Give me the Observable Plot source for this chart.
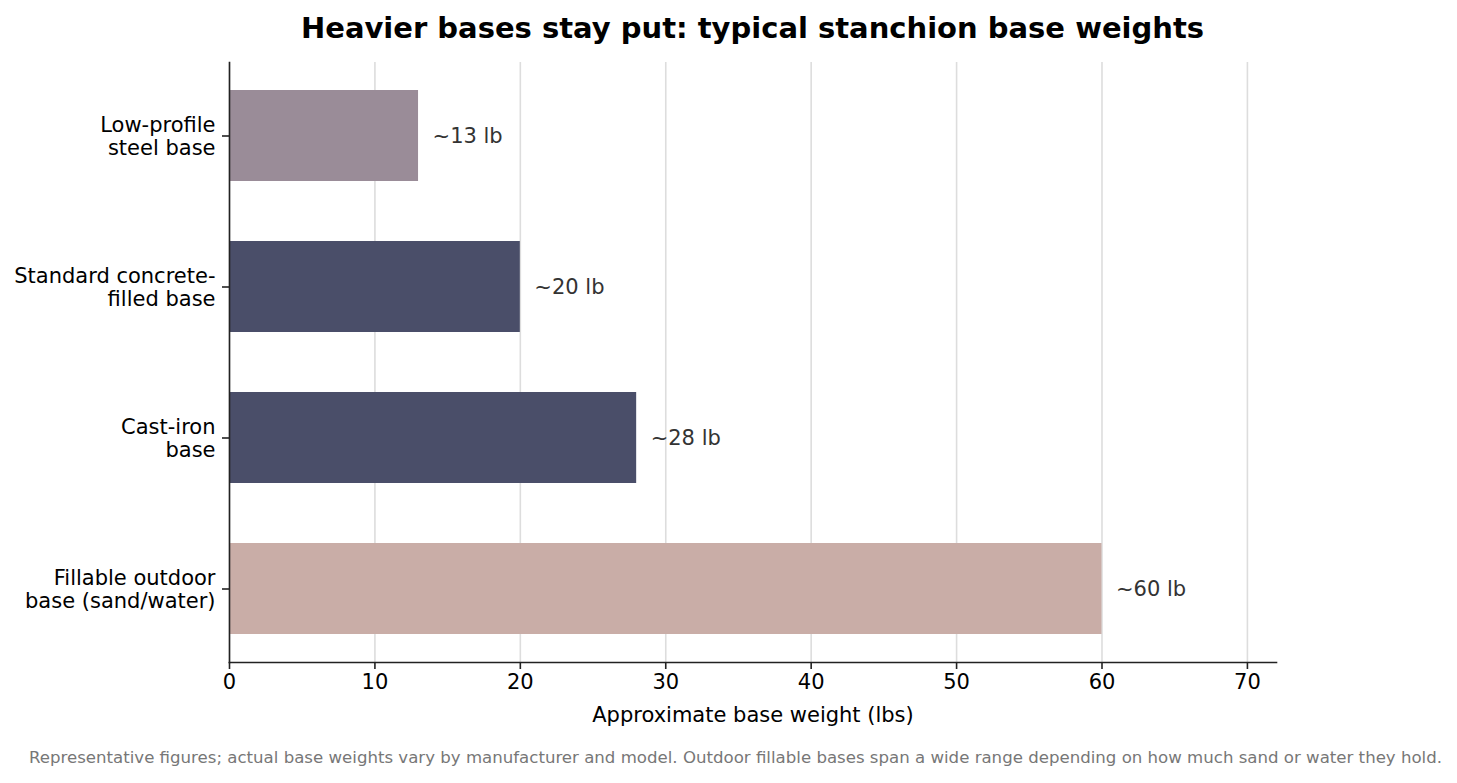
<!DOCTYPE html>
<html>
<head>
<meta charset="utf-8">
<script src="https://cdn.jsdelivr.net/npm/d3@7"></script>
<script src="https://cdn.jsdelivr.net/npm/@observablehq/plot@0.6"></script>
<style>
  html, body { margin: 0; padding: 0; background: #fff; }
  #wrap { position: relative; width: 1457px; height: 783px; font-family: "DejaVu Sans", sans-serif; }
  #title { position: absolute; left: 229px; width: 1047px; top: 10px; text-align: center; font-size: 29px; font-weight: bold; color: #000; line-height: 36px; white-space: nowrap; }
  #chart { position: absolute; left: 0; top: 50px; }
  #caption { position: absolute; left: 0; width: 1471px; top: 748px; text-align: center; font-size: 16.6px; color: #777; line-height: 20px; white-space: nowrap; }
</style>
</head>
<body>
<div id="wrap">
  <div id="title">Heavier bases stay put: typical stanchion base weights</div>
  <div id="chart"></div>
  <div id="caption">Representative figures; actual base weights vary by manufacturer and model. Outdoor fillable bases span a wide range depending on how much sand or water they hold.</div>
</div>
<script>
const categories = [
  "Low-profile\nsteel base",
  "Standard concrete-\nfilled base",
  "Cast-iron\nbase",
  "Fillable outdoor\nbase (sand/water)"
];
const weights = [13, 20, 28, 60];
const palette = ["#9a8c98", "#4a4e69", "#4a4e69", "#c9ada7"];
const xTicks = [0, 10, 20, 30, 40, 50, 60, 70];

const data = categories.map((c, i) => ({cat: c, w: weights[i]}));

const plot = Plot.plot({
  width: 1457,
  height: 700,
  marginTop: 12,
  marginBottom: 88,
  marginLeft: 229,
  marginRight: 181,
  style: {fontFamily: "DejaVu Sans, sans-serif", fontSize: "21px", color: "#000", background: "#fff"},
  x: {domain: [0, 72]},
  y: {domain: categories, paddingInner: 0.4, paddingOuter: 0.174},
  color: {domain: categories, range: palette},
  marks: [
    Plot.gridX(xTicks, {stroke: "#dddddd", strokeOpacity: 1, strokeWidth: 1.6}),
    Plot.barX(data, {x: "w", y: "cat", fill: "cat"}),
    Plot.text(data, {x: "w", y: "cat", text: d => `~${d.w} lb`, dx: 14, textAnchor: "start", fill: "#333", fontSize: 21}),
    Plot.frame({anchor: "left", stroke: "#222", strokeWidth: 1.6}),
    Plot.frame({anchor: "bottom", stroke: "#222", strokeWidth: 1.6}),
    Plot.axisY({tickSize: 7, tickPadding: 7, label: null, lineHeight: 1.1, fontSize: 21, stroke: "#222", strokeWidth: 1.6}),
    Plot.axisX(xTicks, {tickSize: 7, tickPadding: 5, fontSize: 21, stroke: "#222", strokeWidth: 1.6,
      label: "Approximate base weight (lbs)", labelArrow: "none", labelAnchor: "center", labelOffset: 59})
  ]
});
document.getElementById("chart").appendChild(plot);
</script>
</body>
</html>
